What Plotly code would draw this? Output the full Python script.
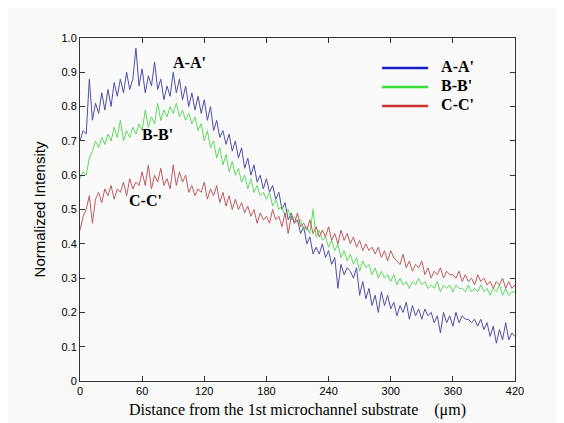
import numpy as np
import plotly.graph_objects as go

# distance along the line profile, um (one reading every 3 um)
distance = list(range(0, 421, 3))

# A-A' profile
intensity_aa = [
    0.70, 0.73, 0.72, 0.88, 0.76, 0.81, 0.78, 0.84, 0.79, 0.85,
    0.80, 0.87, 0.83, 0.88, 0.84, 0.90, 0.85, 0.88, 0.97, 0.86,
    0.91, 0.84, 0.89, 0.86, 0.93, 0.85, 0.88, 0.82, 0.86, 0.83,
    0.90, 0.84, 0.88, 0.82, 0.86, 0.80, 0.84, 0.79, 0.83, 0.78,
    0.82, 0.76, 0.80, 0.73, 0.76, 0.71, 0.73, 0.69, 0.72, 0.67,
    0.70, 0.65, 0.68, 0.62, 0.65, 0.60, 0.63, 0.58, 0.60, 0.56,
    0.59, 0.55, 0.57, 0.53, 0.55, 0.50, 0.52, 0.47, 0.49, 0.46,
    0.47, 0.43, 0.45, 0.40, 0.42, 0.37, 0.39, 0.37, 0.40, 0.36,
    0.38, 0.34, 0.36, 0.27, 0.34, 0.31, 0.33, 0.32, 0.30, 0.33,
    0.25, 0.29, 0.24, 0.27, 0.22, 0.25, 0.20, 0.26, 0.22, 0.25,
    0.21, 0.23, 0.19, 0.22, 0.20, 0.23, 0.18, 0.22, 0.19, 0.21,
    0.18, 0.21, 0.19, 0.20, 0.17, 0.19, 0.14, 0.20, 0.17, 0.19,
    0.16, 0.20, 0.17, 0.19, 0.18, 0.18, 0.17, 0.18, 0.16, 0.18,
    0.15, 0.17, 0.13, 0.16, 0.11, 0.15, 0.12, 0.17, 0.12, 0.14,
    0.13,
]

# B-B' profile
intensity_bb = [
    0.59, 0.61, 0.60, 0.65, 0.67, 0.70, 0.68, 0.71, 0.69, 0.72,
    0.70, 0.74, 0.71, 0.76, 0.70, 0.73, 0.71, 0.74, 0.72, 0.75,
    0.73, 0.79, 0.74, 0.77, 0.75, 0.81, 0.76, 0.79, 0.77, 0.80,
    0.78, 0.81, 0.77, 0.79, 0.76, 0.78, 0.75, 0.77, 0.73, 0.75,
    0.70, 0.73, 0.68, 0.70, 0.65, 0.68, 0.63, 0.66, 0.61, 0.64,
    0.60, 0.62, 0.58, 0.60, 0.56, 0.59, 0.55, 0.57, 0.54, 0.55,
    0.53, 0.55, 0.51, 0.53, 0.50, 0.51, 0.48, 0.50, 0.47, 0.48,
    0.46, 0.47, 0.44, 0.45, 0.43, 0.50, 0.42, 0.44, 0.41, 0.42,
    0.39, 0.41, 0.38, 0.40, 0.36, 0.38, 0.35, 0.37, 0.34, 0.36,
    0.32, 0.35, 0.33, 0.34, 0.31, 0.33, 0.30, 0.32, 0.30, 0.31,
    0.29, 0.31, 0.28, 0.30, 0.28, 0.29, 0.27, 0.29, 0.28, 0.30,
    0.28, 0.29, 0.27, 0.28, 0.27, 0.29, 0.26, 0.28, 0.27, 0.28,
    0.26, 0.28, 0.27, 0.27, 0.26, 0.28, 0.26, 0.27, 0.26, 0.28,
    0.26, 0.27, 0.25, 0.27, 0.26, 0.28, 0.25, 0.27, 0.25, 0.26,
    0.26,
]

# C-C' profile
intensity_cc = [
    0.44, 0.48, 0.50, 0.54, 0.46, 0.53, 0.55, 0.52, 0.56, 0.54,
    0.57, 0.53, 0.56, 0.55, 0.58, 0.54, 0.59, 0.56, 0.58, 0.57,
    0.61, 0.57, 0.63, 0.56, 0.60, 0.58, 0.62, 0.57, 0.59, 0.56,
    0.63, 0.57, 0.61, 0.58, 0.60, 0.55, 0.57, 0.54, 0.56, 0.55,
    0.58, 0.53, 0.56, 0.54, 0.57, 0.52, 0.55, 0.51, 0.54, 0.50,
    0.53, 0.50, 0.52, 0.49, 0.51, 0.48, 0.50, 0.46, 0.49, 0.47,
    0.48, 0.46, 0.50, 0.47, 0.48, 0.45, 0.49, 0.43, 0.48, 0.46,
    0.49, 0.45, 0.46, 0.44, 0.47, 0.43, 0.45, 0.42, 0.44, 0.42,
    0.45, 0.41, 0.43, 0.40, 0.44, 0.41, 0.43, 0.40, 0.42, 0.39,
    0.41, 0.38, 0.40, 0.38, 0.39, 0.37, 0.39, 0.36, 0.38, 0.35,
    0.38, 0.36, 0.35, 0.34, 0.37, 0.33, 0.35, 0.32, 0.34, 0.33,
    0.35, 0.31, 0.33, 0.30, 0.32, 0.31, 0.33, 0.30, 0.32, 0.31,
    0.31, 0.30, 0.32, 0.29, 0.31, 0.29, 0.30, 0.28, 0.31, 0.29,
    0.30, 0.28, 0.29, 0.27, 0.29, 0.28, 0.30, 0.27, 0.29, 0.27,
    0.28,
]

series_names = ["A-A'", "B-B'", "C-C'"]
x_ticks = [0, 60, 120, 180, 240, 300, 360, 420]
y_ticks = [0, 0.1, 0.2, 0.3, 0.4, 0.5, 0.6, 0.7, 0.8, 0.9, 1.0]
y_tick_text = ["0", "0.1", "0.2", "0.3", "0.4", "0.5", "0.6", "0.7", "0.8", "0.9", "1.0"]

# thin washed-out lines in the plot, saturated thick ones in the legend
line_colors = ["#5050a8", "#5cdc5c", "#c05c5c"]
legend_colors = ["#1c1cc8", "#3ade3a", "#cc3030"]
serif = "Liberation Serif"
sans = "Liberation Sans"

fig = go.Figure()
for name, y, col in zip(series_names, [intensity_aa, intensity_bb, intensity_cc], line_colors):
    fig.add_trace(go.Scatter(x=distance, y=y, mode="lines", name=name,
                             line=dict(color=col, width=1), showlegend=False))
# legend-only entries (small legend font keeps the rows tight, span sets the visible size)
for name, col in zip(series_names, legend_colors):
    fig.add_trace(go.Scatter(
        x=[None], y=[None], mode="lines", line=dict(color=col, width=2.5),
        name='<span style="font-size:16px"><b>\u00a0\u00a0' + name + '</b></span>'))

# in-plot labels
for text, lx, ly in [("A-A'", 106, 0.93), ("B-B'", 75, 0.72), ("C-C'", 63, 0.525)]:
    fig.add_annotation(x=lx, y=ly, xref="x", yref="y", text="<b>" + text + "</b>",
                       showarrow=False, font=dict(family=serif, size=16, color="black"))

axis_common = dict(showgrid=False, zeroline=False, showline=True, linecolor="#333333",
                   linewidth=1, mirror="ticks", ticks="inside", ticklen=5, automargin=False,
                   tickcolor="#333333", tickfont=dict(family=sans, size=11, color="black"))

fig.update_xaxes(range=[0, 420], tickvals=x_ticks,
                 title=dict(text="Distance from the 1st microchannel substrate\u00a0\u00a0\u00a0\u00a0(\u03bcm)",
                            font=dict(family=serif, size=16, color="black"), standoff=7),
                 **axis_common)
fig.update_yaxes(range=[0, 1.0], tickvals=y_ticks, ticktext=y_tick_text,
                 title=dict(text="Normalized Intensity",
                            font=dict(family=sans, size=15, color="black"), standoff=12),
                 **axis_common)

fig.update_layout(
    width=564, height=423,
    margin=dict(l=72, r=57, t=30, b=50),
    paper_bgcolor="#f9f9f8", plot_bgcolor="#fafafa",
    legend=dict(x=0.683, y=0.955, xanchor="left", yanchor="top",
                bgcolor="rgba(0,0,0,0)", itemwidth=46,
                font=dict(family=serif, size=11.5, color="black")),
)

fig.write_html("out.html")
